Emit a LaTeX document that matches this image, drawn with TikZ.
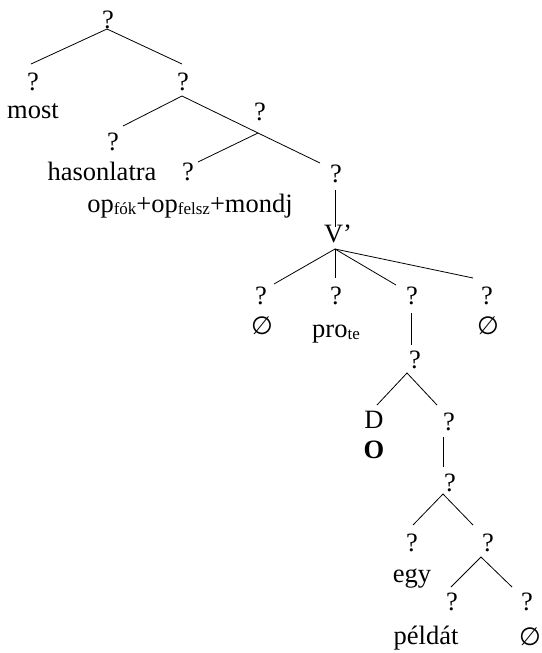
\documentclass[tikz,border=0pt]{standalone}
\usepackage{fontspec}
\setmainfont{Liberation Serif}
\newfontfamily\symfont{DejaVu Sans}
\newcommand{\lowidx}[1]{\raisebox{-2.5pt}{\fontsize{17}{20}\selectfont #1}}
\newcommand{\nullcat}{{\symfont\fontsize{25}{28}\selectfont ∅}}

\begin{document}
\begin{tikzpicture}[x=1pt,y=-1pt]
    \tikzset{every node/.style={inner sep=0pt,anchor=base,font=\fontsize{26.5}{32}\selectfont}}
    \tikzset{branch/.style={line width=0.8pt}}
    \useasboundingbox (0,0) rectangle (541,653);
    % category labels
    \node (r) at (108,28) {?};
    \node (a) at (33,90) {?};
    \node (b) at (183,90) {?};
    \node (c) at (113,150) {?};
    \node (d) at (260,120) {?};
    \node (e) at (188,180) {?};
    \node (f) at (336,182) {?};
    \node (v) at (338,242) {V’};
    \node (g1) at (261,304) {?};
    \node (g2) at (336,304) {?};
    \node (g3) at (412,304) {?};
    \node (g4) at (487,304) {?};
    \node (h) at (415,368) {?};
    \node (dd) at (374,428) {D};
    \node (i) at (449,430) {?};
    \node (j) at (450,491) {?};
    \node (k) at (412,551) {?};
    \node (l) at (488,551) {?};
    \node (m) at (452,610) {?};
    \node (n) at (527,610) {?};
    % words
    \node (w_most) at (33,118) {most};
    \node (w_hasonlatra) at (102,180) {hasonlatra};
    \node (w_op) at (190,212) {op\lowidx{fók}+op\lowidx{felsz}+mondj};
    \node (w_null1) at (262,334) {\nullcat};
    \node (w_pro) at (336,337) {pro\lowidx{te}};
    \node (w_null2) at (488,334) {\nullcat};
    \node (w_o) at (374,458) {\textbf{O}};
    \node (w_egy) at (412,582) {egy};
    \node (w_peldat) at (426,644) {példát};
    \node (w_null3) at (530,645) {\nullcat};
    % branch points
    \coordinate (r-b) at (107,29);
    \coordinate (a-t) at (31,64);
    \coordinate (b-t) at (182,64);
    \coordinate (b-b) at (182,96);
    \coordinate (c-t) at (123,126);
    \coordinate (d-b) at (258,133);
    \coordinate (e-t) at (198,162);
    \coordinate (f-t) at (320,163);
    \coordinate (f-b) at (335,190);
    \coordinate (v-t) at (335,227);
    \coordinate (v-b) at (335,249);
    \coordinate (g1-t) at (274,284);
    \coordinate (g2-t) at (335,278);
    \coordinate (g3-t) at (396,285);
    \coordinate (g4-t) at (473,278);
    \coordinate (g3-b) at (411,313);
    \coordinate (h-t) at (411,345);
    \coordinate (h-b) at (407,373);
    \coordinate (dd-t) at (377,405);
    \coordinate (i-t) at (437,405);
    \coordinate (i-b) at (443,437);
    \coordinate (j-t) at (443,467);
    \coordinate (j-b) at (443,494);
    \coordinate (k-t) at (413,525);
    \coordinate (l-t) at (473,525);
    \coordinate (l-b) at (481,557);
    \coordinate (m-t) at (451,587);
    \coordinate (n-t) at (512,587);
    % branches
    \draw[branch] (a-t) -- (r-b) -- (b-t);
    \draw[branch] (c-t) -- (b-b) -- (d-b);
    \draw[branch] (e-t) -- (d-b) -- (f-t);
    \draw[branch] (f-b) -- (v-t);
    \draw[branch] (v-b) -- (g1-t);
    \draw[branch] (v-b) -- (g2-t);
    \draw[branch] (v-b) -- (g3-t);
    \draw[branch] (v-b) -- (g4-t);
    \draw[branch] (g3-b) -- (h-t);
    \draw[branch] (dd-t) -- (h-b) -- (i-t);
    \draw[branch] (i-b) -- (j-t);
    \draw[branch] (k-t) -- (j-b) -- (l-t);
    \draw[branch] (m-t) -- (l-b) -- (n-t);
\end{tikzpicture}
\end{document}
